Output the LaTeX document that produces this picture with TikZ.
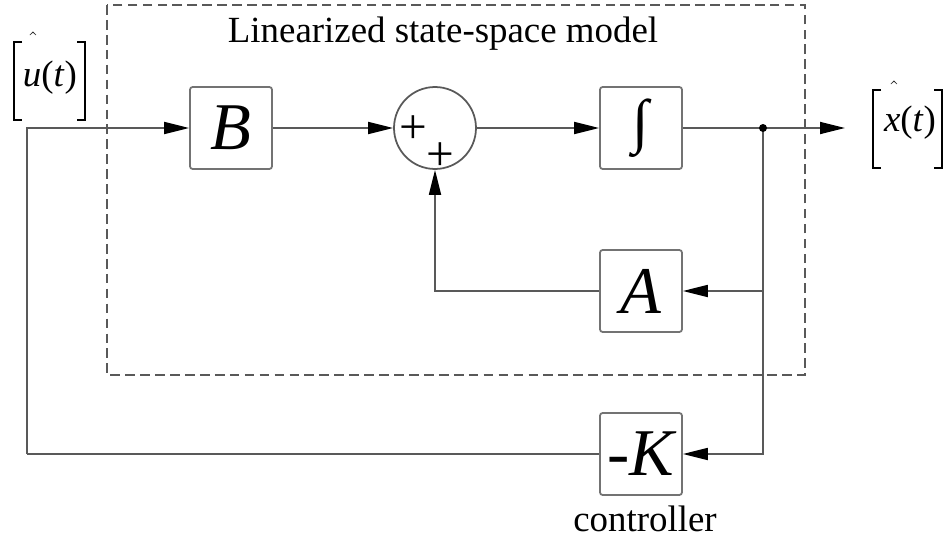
\documentclass[tikz,border=0pt]{standalone}
\usepackage{fontspec}
\setmainfont{Liberation Serif}
\usetikzlibrary{arrows.meta}
\definecolor{linegray}{gray}{0.35}
\definecolor{framegray}{gray}{0.45}
\begin{document}
\begin{tikzpicture}[x=0.02cm,y=-0.02cm,
  blk/.style={draw=framegray,line width=1pt,rounded corners=1.5pt,fill=white,minimum size=1.64cm,inner sep=0pt,font=\fontsize{38}{40}\selectfont\itshape},
  lbl/.style={font=\fontsize{21}{24}\selectfont,inner sep=0pt},
  hatmark/.style={font=\fontsize{14}{16}\selectfont,inner sep=0pt},
  plus/.style={font=\fontsize{28}{30}\selectfont,inner sep=0pt},
  sig/.style={draw=linegray,line width=1pt,-{Triangle[length=0.5cm,width=0.24cm,color=black]}},
  bracket/.style={draw=black,line width=1.2pt}]
\useasboundingbox (0,0) rectangle (948,541);
% model frame
\draw[linegray,line width=0.9pt,dash pattern=on 5.5pt off 3pt] (107,5) rectangle (805,375);
\node[lbl,anchor=base] (title) at (443,42) {Linearized state-space model};
% blocks
\node[blk] (B) at (231,128) {B};
\node[circle,draw=linegray,line width=1pt,minimum size=1.64cm,inner sep=0pt] (sum) at (435,128) {};
\node[plus] (p1) at (413,130) {+};
\node[plus] (p2) at (440,157) {+};
\node[blk,font=\fontsize{34}{36}\selectfont] (int) at (641,128) {∫};
\node[blk] (A) at (641,291) {A};
\node[blk] (K) at (641,454) {-K};
\node[lbl,anchor=base] (ctrl) at (645,531) {controller};
\coordinate (junc) at (763,128);
\coordinate (out) at (845,128);
\coordinate (fb) at (27,454);
% connections
\draw[sig] (fb) |- (B);
\draw[sig] (B) -- (sum);
\draw[sig] (sum) -- (int);
\draw[sig] (int) -- (out);
\draw[sig] (junc) |- (A);
\draw[sig] (junc) |- (K);
\draw[sig] (A) -| (sum);
\draw[linegray,line width=1pt] (K) -- (fb);
\fill[black] (junc) circle[radius=0.08cm];
% input and output
\draw[bracket] (22,42) -- (14,42) -- (14,120) -- (22,120);
\draw[bracket] (77,42) -- (85,42) -- (85,120) -- (77,120);
\node[lbl,anchor=base] (u) at (50,86) {\textit{u}(\textit{t})};
\node[hatmark,anchor=south] (uhat) at (33,50) {$\hat{}$};
\draw[bracket] (881,90) -- (873,90) -- (873,168) -- (881,168);
\draw[bracket] (934,90) -- (942,90) -- (942,168) -- (934,168);
\node[lbl,anchor=base] (x) at (910,132) {\textit{x}(\textit{t})};
\node[hatmark,anchor=south] (xhat) at (894,99) {$\hat{}$};
\end{tikzpicture}
\end{document}
